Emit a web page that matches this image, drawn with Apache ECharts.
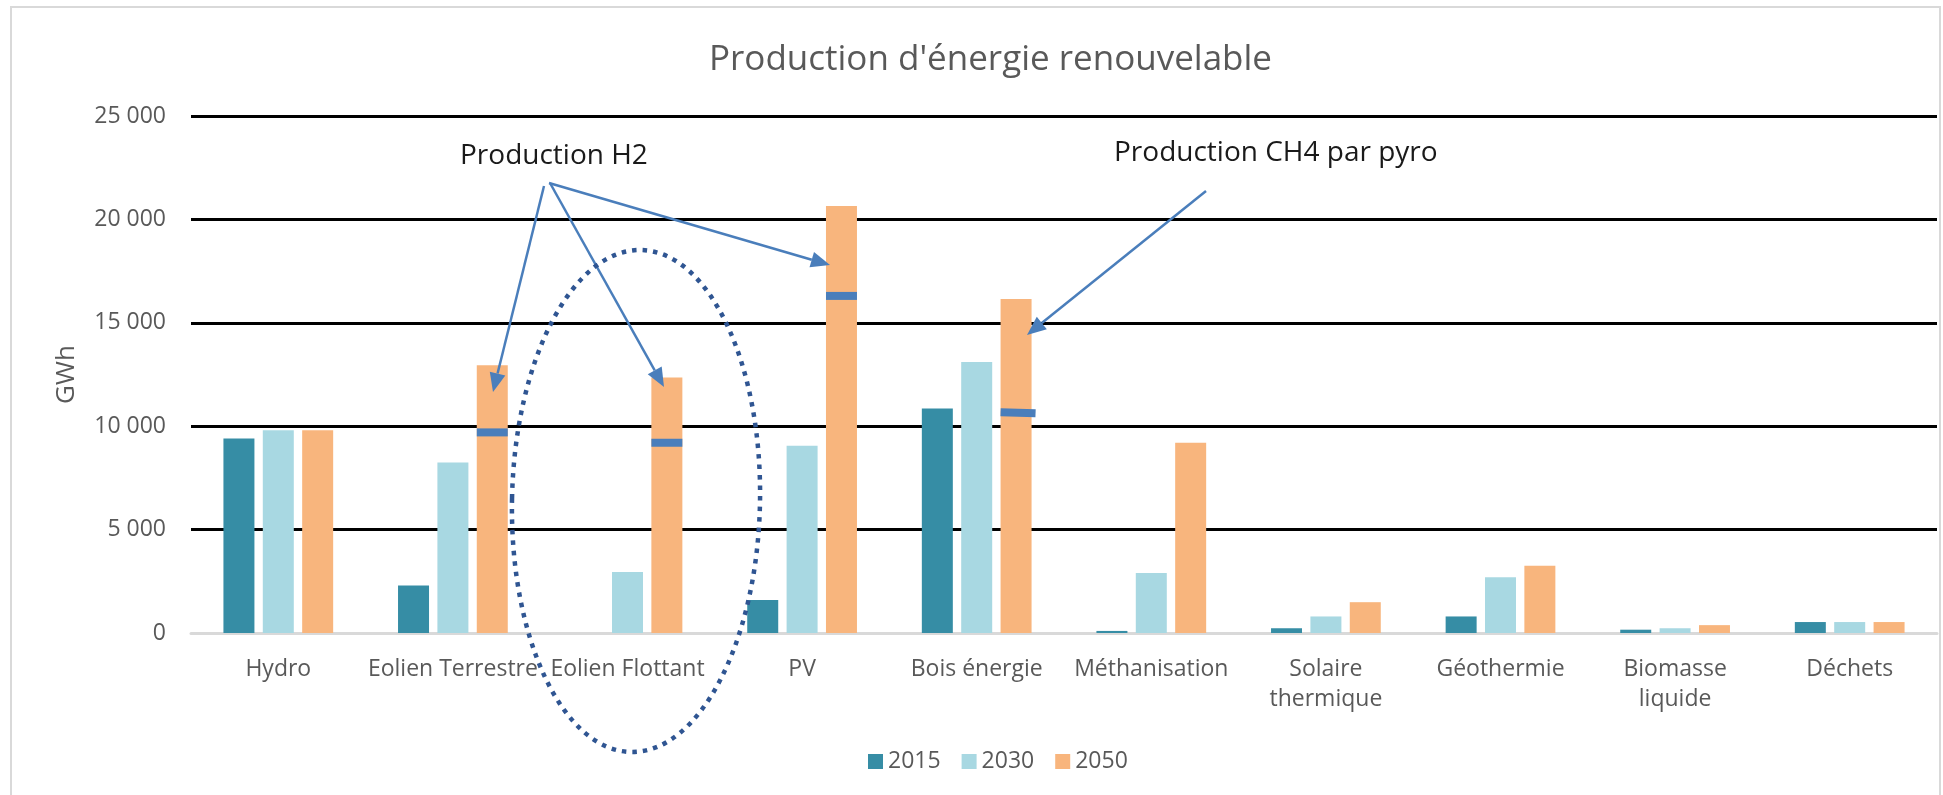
<!DOCTYPE html>
<html>
<head>
<meta charset="utf-8">
<title>Production d'énergie renouvelable</title>
<script src="https://cdn.jsdelivr.net/npm/echarts@6.0.0/dist/echarts.min.js"></script>
<style>
  html, body { margin: 0; padding: 0; background: #fff; }
  #chart { width: 1943px; height: 795px; }
</style>
</head>
<body>
<div id="chart"></div>
<script>
// catégories et valeurs (GWh)
const categories = [
  "Hydro", "Eolien Terrestre", "Eolien Flottant", "PV", "Bois énergie",
  "Méthanisation", "Solaire\nthermique", "Géothermie", "Biomasse\nliquide", "Déchets"
];
const years = ["2015", "2030", "2050"];
const values2015 = [9400, 2300, 0, 1600, 10850, 100, 230, 800, 160, 530];
const values2030 = [9800, 8250, 2950, 9050, 13100, 2900, 800, 2700, 230, 530];
const values2050 = [9800, 12950, 12350, 20650, 16150, 9200, 1490, 3250, 380, 530];
// repères bleus dans les barres 2050 (part H2 / CH4)
const markerValues = [null, 9700, 9200, 16300, 10650, null, null, null, null, null];
const yTicks = { min: 0, max: 25000, interval: 5000 };

const colors = ["#368DA5", "#A8D8E2", "#F8B57D"];
const arrowBlue = "#4A7EBB";

const chart = echarts.init(document.getElementById("chart"));

// flèche simple: trait + pointe triangulaire
function arrow(x1, y1, x2, y2) {
  const len = 19, half = 8;
  const dx = x2 - x1, dy = y2 - y1;
  const d = Math.sqrt(dx * dx + dy * dy);
  const ux = dx / d, uy = dy / d;
  const bx = x2 - ux * len, by = y2 - uy * len;
  return [
    {
      type: "line",
      shape: { x1: x1, y1: y1, x2: bx, y2: by },
      style: { stroke: arrowBlue, lineWidth: 2.5 },
      z: 50
    },
    {
      type: "polygon",
      shape: { points: [[x2, y2], [bx - uy * half, by + ux * half], [bx + uy * half, by - ux * half]] },
      style: { fill: arrowBlue },
      z: 50
    }
  ];
}

const barWidth = 31;
const markerOffset = barWidth + barWidth * 0.27;

const markerData = markerValues.map((v, i) => {
  if (v === null) return null;
  if (i === 4) {
    return { value: v, symbolRotate: -2, symbolSize: [35, 8], symbolOffset: [markerOffset + 2, 0] };
  }
  return v;
});

const option = {
  animation: false,
  textStyle: { fontFamily: "Open Sans" },
  title: {
    text: "Production d'énergie renouvelable",
    left: 704,
    top: 38,
    textStyle: { fontSize: 35, fontWeight: "normal", color: "#595959", fontFamily: "Open Sans" }
  },
  legend: {
    data: years,
    left: 863,
    top: 745,
    icon: "rect",
    itemWidth: 15,
    itemHeight: 15,
    itemGap: 21,
    textStyle: { fontSize: 23, color: "#595959", fontFamily: "Open Sans" }
  },
  grid: { left: 191, right: 6, top: 116, bottom: 162 },
  xAxis: {
    type: "category",
    data: categories,
    axisLine: { lineStyle: { color: "#D9D9D9", width: 3 } },
    axisTick: { show: false },
    axisLabel: {
      interval: 0,
      hideOverlap: false,
      color: "#595959",
      fontSize: 23,
      lineHeight: 30,
      margin: 21,
      fontFamily: "Open Sans"
    }
  },
  yAxis: {
    type: "value",
    min: yTicks.min,
    max: yTicks.max,
    interval: yTicks.interval,
    name: "GWh",
    nameLocation: "middle",
    nameRotate: 90,
    nameGap: 111,
    nameTextStyle: { fontSize: 26, color: "#595959", fontFamily: "Open Sans" },
    axisLine: { show: false },
    axisTick: { show: false },
    axisLabel: {
      color: "#595959",
      fontSize: 23,
      margin: 25,
      fontFamily: "Open Sans",
      formatter: (v) => String(v).replace(/\B(?=(\d{3})+(?!\d))/g, " ")
    },
    splitLine: { show: true, showMinLine: false, lineStyle: { color: "#000", width: 2.8 } }
  },
  series: [
    { name: years[0], type: "bar", data: values2015, barWidth: barWidth, barGap: "27%", itemStyle: { color: colors[0] } },
    { name: years[1], type: "bar", data: values2030, barWidth: barWidth, barGap: "27%", itemStyle: { color: colors[1] } },
    { name: years[2], type: "bar", data: values2050, barWidth: barWidth, barGap: "27%", itemStyle: { color: colors[2] } },
    {
      name: "repères",
      type: "scatter",
      data: markerData,
      symbol: "rect",
      symbolSize: [barWidth, 8],
      symbolOffset: [markerOffset, 0],
      itemStyle: { color: arrowBlue, opacity: 1 },
      z: 10
    }
  ],
  graphic: [
    // cadre du graphique
    {
      type: "rect",
      shape: { x: 11, y: 7, width: 1929, height: 820 },
      style: { fill: "none", stroke: "#D9D9D9", lineWidth: 2 },
      silent: true
    },
    {
      type: "text",
      left: 460,
      top: 142,
      style: { text: "Production H2", fontSize: 28, fill: "#1A1A1A", fontFamily: "Open Sans" },
      z: 50
    },
    {
      type: "text",
      left: 1114,
      top: 139,
      style: { text: "Production CH4 par pyro", fontSize: 28, fill: "#1A1A1A", fontFamily: "Open Sans" },
      z: 50
    },
    ...arrow(544, 186, 493, 392),
    ...arrow(550, 183, 664, 387),
    ...arrow(549, 183, 830, 265),
    ...arrow(1206, 191, 1027, 335),
    // ellipse pointillée autour de l'éolien flottant
    {
      type: "ellipse",
      shape: { cx: 636, cy: 501, rx: 124, ry: 251 },
      rotation: -0.02,
      originX: 636,
      originY: 501,
      style: { fill: "none", stroke: "#2F5592", lineWidth: 4.5, lineDash: [4.5, 6] },
      z: 60
    }
  ]
};

chart.setOption(option);
</script>
</body>
</html>
